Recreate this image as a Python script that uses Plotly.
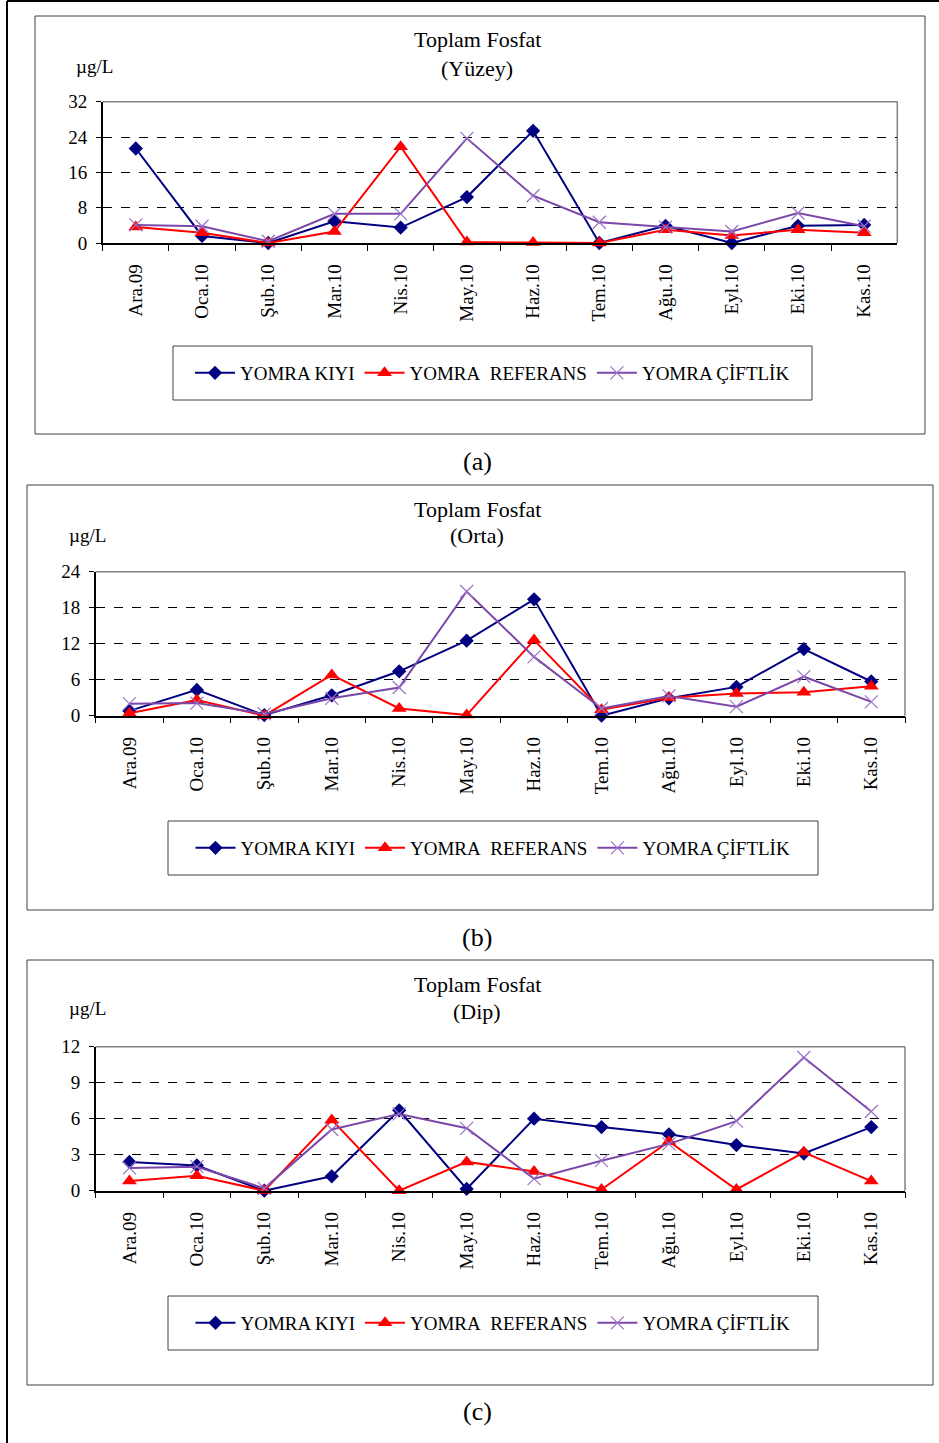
import plotly.graph_objects as go

# Month labels (Dec 2009 - Nov 2010)
months = ["Ara.09", "Oca.10", "Şub.10", "Mar.10", "Nis.10", "May.10",
          "Haz.10", "Tem.10", "Ağu.10", "Eyl.10", "Eki.10", "Kas.10"]

# Total phosphate, µg/L — surface (Yüzey)
yuzey_kiyi = [21.4, 1.6, 0.0, 4.9, 3.5, 10.4, 25.4, 0.0, 3.9, 0.0, 3.9, 4.1]
yuzey_referans = [3.6, 2.3, 0.0, 2.6, 21.8, 0.2, 0.1, 0.0, 3.0, 1.7, 3.0, 2.3]
yuzey_ciftlik = [4.1, 3.8, 0.4, 6.6, 6.6, 23.7, 10.7, 4.7, 3.6, 2.6, 6.8, 3.8]

# Middle depth (Orta)
orta_kiyi = [0.8, 4.3, 0.1, 3.4, 7.4, 12.5, 19.4, 0.0, 2.9, 4.8, 11.1, 5.7]
orta_referans = [0.4, 2.6, 0.0, 6.8, 1.2, 0.1, 12.6, 1.0, 3.0, 3.7, 3.9, 4.9]
orta_ciftlik = [2.0, 2.1, 0.3, 2.9, 4.7, 20.7, 9.8, 1.2, 3.3, 1.5, 6.5, 2.3]

# Bottom (Dip)
dip_kiyi = [2.4, 2.1, 0.0, 1.2, 6.7, 0.15, 6.0, 5.3, 4.7, 3.8, 3.1, 5.3]
dip_referans = [0.8, 1.25, 0.0, 5.9, 0.0, 2.4, 1.6, 0.1, 4.1, 0.1, 3.2, 0.8]
dip_ciftlik = [1.9, 2.0, 0.2, 5.1, 6.4, 5.2, 1.0, 2.5, 3.9, 5.8, 11.1, 6.6]

series_names = ["YOMRA KIYI", "YOMRA\u00a0 REFERANS", "YOMRA ÇİFTLİK"]
y_max = [32, 24, 12]
y_step = [8, 6, 3]
subtitles = ["(Yüzey)", "(Orta)", "(Dip)"]
panel_tags = ["(a)", "(b)", "(c)"]

W, H = 939, 1443
FONT = "Liberation Serif, Times New Roman, serif"


def px(x):
    return x / W


def py(y):
    return 1 - y / H


# Panel geometry in page pixels
panels = [
    dict(plot=(102.7, 101.7, 897.3, 243.0), box=(35, 16, 925, 434),
         title_y=(40, 68), unit=(94, 66), legend=(173, 346, 812, 400), tag_y=461),
    dict(plot=(95.7, 571.7, 905.0, 715.7), box=(27, 485, 933, 910),
         title_y=(509, 536), unit=(87, 535), legend=(168, 821, 818, 875), tag_y=937),
    dict(plot=(95.7, 1046.7, 905.0, 1190.7), box=(27, 960, 933, 1385),
         title_y=(984, 1011), unit=(87, 1009), legend=(168, 1296, 818, 1350), tag_y=1411),
]

data = [
    (yuzey_kiyi, yuzey_referans, yuzey_ciftlik),
    (orta_kiyi, orta_referans, orta_ciftlik),
    (dip_kiyi, dip_referans, dip_ciftlik),
]

styles = [
    dict(line=dict(color="#000080", width=2),
         marker=dict(symbol="diamond", size=11, color="#000080")),
    dict(line=dict(color="#FF0000", width=2),
         marker=dict(symbol="triangle-up", size=13, color="#FF0000")),
    dict(line=dict(color="#7B47A8", width=2),
         marker=dict(symbol="x-thin-open", size=13, color="#9A72C8",
                     line=dict(color="#9A72C8", width=1.2))),
]

fig = go.Figure()
shapes = []
annotations = []
layout = {}

for i, (p, vals) in enumerate(zip(panels, data)):
    n = "" if i == 0 else str(i + 1)
    x0, y0, x1, y1 = p["plot"]
    legend_key = "legend" + n
    for j, (name, v) in enumerate(zip(series_names, vals)):
        fig.add_trace(go.Scatter(
            x=months, y=v, name=name, mode="lines+markers",
            xaxis="x" + n, yaxis="y" + n, legend=legend_key,
            cliponaxis=False, **styles[j]))

    layout["xaxis" + n] = dict(
        domain=[px(x0), px(x1)], anchor="y" + n, type="category",
        tickson="boundaries", ticks="outside", ticklen=6, tickcolor="black",
        showline=True, linecolor="black", linewidth=1.5, showgrid=False,
        tickangle=-90, ticklabelstandoff=12, automargin=False,
        tickfont=dict(family=FONT, size=19, color="black"),
        range=[-0.5, 11.5], fixedrange=True)
    layout["yaxis" + n] = dict(
        domain=[py(y1), py(y0)], anchor="x" + n,
        range=[0, y_max[i]], dtick=y_step[i], tick0=0,
        ticks="outside", ticklen=5, tickcolor="black", ticklabelstandoff=5,
        showline=True, linecolor="black", linewidth=1.5, automargin=False,
        showgrid=True, gridcolor="black", griddash="dash", gridwidth=0.8,
        zeroline=False, tickfont=dict(family=FONT, size=19, color="black"),
        fixedrange=True)

    # grey top/right frame of the plot area
    shapes.append(dict(type="line", xref="paper", yref="paper",
                       x0=px(x0), x1=px(x1), y0=py(y0), y1=py(y0),
                       line=dict(color="#808080", width=1.5), layer="between"))
    shapes.append(dict(type="line", xref="paper", yref="paper",
                       x0=px(x1), x1=px(x1), y0=py(y0), y1=py(y1),
                       line=dict(color="#808080", width=1.5), layer="between"))

    # outer chart box
    bx0, by0, bx1, by1 = p["box"]
    shapes.append(dict(type="rect", xref="paper", yref="paper",
                       x0=px(bx0), x1=px(bx1), y0=py(by1), y1=py(by0),
                       line=dict(color="#404040", width=1)))

    # legend box
    lx0, ly0, lx1, ly1 = p["legend"]
    shapes.append(dict(type="rect", xref="paper", yref="paper",
                       x0=px(lx0), x1=px(lx1), y0=py(ly1), y1=py(ly0),
                       line=dict(color="#404040", width=1)))
    layout[legend_key] = dict(
        orientation="h", x=px((lx0 + lx1) / 2), y=py((ly0 + ly1) / 2),
        xanchor="center", yanchor="middle", bgcolor="rgba(0,0,0,0)",
        borderwidth=0, itemwidth=40, tracegroupgap=0,
        font=dict(family=FONT, size=19, color="black"))

    # titles and labels
    t1, t2 = p["title_y"]
    annotations.append(dict(text="Toplam Fosfat", x=px(477), y=py(t1),
                            xref="paper", yref="paper", showarrow=False,
                            xanchor="center", yanchor="middle",
                            font=dict(family=FONT, size=22, color="black")))
    annotations.append(dict(text=subtitles[i], x=px(477), y=py(t2),
                            xref="paper", yref="paper", showarrow=False,
                            xanchor="center", yanchor="middle",
                            font=dict(family=FONT, size=22, color="black")))
    ux, uy = p["unit"]
    annotations.append(dict(text="µg/L", x=px(ux), y=py(uy),
                            xref="paper", yref="paper", showarrow=False,
                            xanchor="center", yanchor="middle",
                            font=dict(family=FONT, size=19, color="black")))
    annotations.append(dict(text=panel_tags[i], x=px(477), y=py(p["tag_y"]),
                            xref="paper", yref="paper", showarrow=False,
                            xanchor="center", yanchor="middle",
                            font=dict(family=FONT, size=26, color="black")))

# page frame: top and left edges
shapes.append(dict(type="line", xref="paper", yref="paper",
                   x0=px(7), x1=1, y0=py(1), y1=py(1),
                   line=dict(color="black", width=2)))
shapes.append(dict(type="line", xref="paper", yref="paper",
                   x0=px(7), x1=px(7), y0=py(1), y1=0,
                   line=dict(color="black", width=2)))

fig.update_layout(
    width=W, height=H, margin=dict(l=0, r=0, t=0, b=0, autoexpand=False),
    paper_bgcolor="white", plot_bgcolor="white",
    shapes=shapes, annotations=annotations, **layout)

fig.write_html("out.html")
